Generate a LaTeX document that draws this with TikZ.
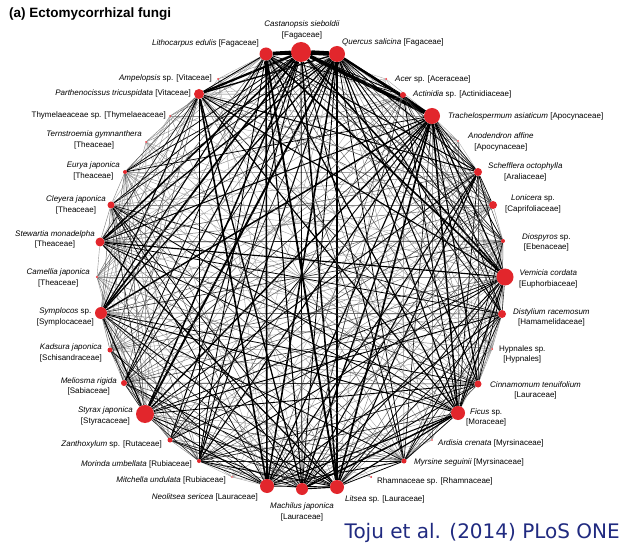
\documentclass[tikz,border=0pt]{standalone}
\usepackage{fontspec}
\setmainfont{Liberation Sans}
\newfontfamily\creditfont{DejaVu Sans}
\usepackage{xcolor}
\definecolor{nodered}{RGB}{226,38,44}
\definecolor{creditblue}{RGB}{32,42,128}
\usepackage{tikz}
\usetikzlibrary{backgrounds}

\tikzset{
  plant/.style={circle, fill=nodered, inner sep=0pt},
  lab/.style={inner sep=0pt, align=center, font=\fontsize{8}{10.5}\selectfont},
}

\begin{document}
\begin{tikzpicture}[x=1pt, y=-1pt]

      \useasboundingbox (0,0) rectangle (624,548);

      \newcommand\plants{cas/301/52/10/1.0, que/337/54/8/0.85, ace/386/79/1/0.05,
        act/403/95/3/0.3, tra/432/116/8/0.85, ano/458/141/0.9/0.07,
        sch/478/172/4/0.45, lon/493/205/4/0.45, dio/503/241/2/0.25,
        ver/505/277/8.5/0.7, dis/502/314/4/0.45, hyp/492/349/1/0.1,
        cin/478/384/3.5/0.4, fic/458/413/7/0.75, ard/432/440/0.9/0.05,
        myr/404/461/2.5/0.35, rha/371/477/1/0.05, lit/337/487/7/0.75,
        mac/302/489/6/0.7, neo/267/486/7/0.75, mit/232/477/0.9/0.06,
        mor/199/461/2/0.4, zan/170/440/2.5/0.3, sty/145/414/9/0.8,
        mel/124/383/3/0.3, kad/110/350/2.5/0.25, sym/101/313/6/0.6,
        cam/97/277/1.2/0.1, ste/100/242/4.5/0.55, cle/111/205/3.5/0.35,
        eur/125/172/2/0.2, ter/146/142/1/0.08, thy/170/116/1/0.07,
        par/199/94/5/0.7, amp/218/79/1/0.05, lth/266/54/6.5/0.85}

      \foreach \a/\xa/\ya/\ra/\wa in \plants
        \node [plant, minimum size=2*\ra] (\a) at (\xa,\ya) {};

      \begin{pgfonlayer}{background}
      \fill [white] (0,0) rectangle (624,548);
      \foreach \pass in {0,1}
        \foreach \a/\xa/\ya/\ra/\wa [count=\i] in \plants
          \foreach \b/\xb/\yb/\rb/\wb [count=\j] in \plants {
            \ifnum\j>\i
              \pgfmathsetmacro\s{\wa*\wb*(0.4+1.2*mod(\i*31+\j*17+\i*\j*3,41)/41)}
              \pgfmathtruncatemacro\keep{(\s>0.03)&&(mod(\i*13+\j*29+\i*\j*7,43)>8)&&((\s>0.12)==\pass)}
              \ifnum\keep=1
                \pgfmathsetmacro\lw{min(0.3+1.6*\s,2.1)+10*max(0,\wa*\wb-0.6)*(\ya<120)*(\yb<120)}
                \pgfmathtruncatemacro\gr{min(100,25+300*\s)}
                \draw [line width=\lw pt, black!\gr] (\a) -- (\b);
              \fi
            \fi
          }
      \end{pgfonlayer}

      \node [anchor=west, inner sep=0pt, font=\fontsize{13.5}{16}\selectfont\bfseries] (title) at (9,14) {(a) Ectomycorrhizal fungi};

      \node [lab, anchor=south] (l-cas) at (302,39) {\textit{Castanopsis sieboldii}\\{}[Fagaceae]};
      \node [lab, anchor=west] (l-que) at (342,42) {\textit{Quercus salicina} [Fagaceae]};
      \node [lab, anchor=west] (l-ace) at (395,79) {\textit{Acer} sp. [Aceraceae]};
      \node [lab, anchor=west] (l-act) at (413,94) {\textit{Actinidia} sp. [Actinidiaceae]};
      \node [lab, anchor=west] (l-tra) at (448,116) {\textit{Trachelospermum asiaticum} [Apocynaceae]};
      \node [lab, anchor=west] (l-ano) at (468,142) {\textit{Anodendron affine}\\{}[Apocynaceae]};
      \node [lab, anchor=west] (l-sch) at (488,172) {\textit{Schefflera octophylla}\\{}[Araliaceae]};
      \node [lab, anchor=west] (l-lon) at (505,204) {\textit{Lonicera} sp.\\{}[Caprifoliaceae]};
      \node [lab, anchor=west] (l-dio) at (522,242.5) {\textit{Diospyros} sp.\\{}[Ebenaceae]};
      \node [lab, anchor=west] (l-ver) at (519,279) {\textit{Vernicia cordata}\\{}[Euphorbiaceae]};
      \node [lab, anchor=west] (l-dis) at (513,317.5) {\textit{Distylium racemosum}\\{}[Hamamelidaceae]};
      \node [lab, anchor=west] (l-hyp) at (499,354.5) {Hypnales sp.\\{}[Hypnales]};
      \node [lab, anchor=west] (l-cin) at (490,390.5) {\textit{Cinnamomum tenuifolium}\\{}[Lauraceae]};
      \node [lab, anchor=west] (l-fic) at (466,417.5) {\textit{Ficus} sp.\\{}[Moraceae]};
      \node [lab, anchor=west] (l-ard) at (438,443) {\textit{Ardisia crenata} [Myrsinaceae]};
      \node [lab, anchor=west] (l-myr) at (414,462) {\textit{Myrsine seguinii} [Myrsinaceae]};
      \node [lab, anchor=west] (l-rha) at (377,481) {Rhamnaceae sp. [Rhamnaceae]};
      \node [lab, anchor=west] (l-lit) at (345,499) {\textit{Litsea} sp. [Lauraceae]};
      \node [lab, anchor=north] (l-mac) at (302,503) {\textit{Machilus japonica}\\{}[Lauraceae]};
      \node [lab, anchor=east] (l-neo) at (258,497) {\textit{Neolitsea sericea} [Lauraceae]};
      \node [lab, anchor=east] (l-mit) at (226,480) {\textit{Mitchella undulata} [Rubiaceae]};
      \node [lab, anchor=east] (l-mor) at (192,464) {\textit{Morinda umbellata} [Rubiaceae]};
      \node [lab, anchor=east] (l-zan) at (162,444) {\textit{Zanthoxylum} sp. [Rutaceae]};
      \node [lab, anchor=east] (l-sty) at (133,416) {\textit{Styrax japonica}\\{}[Styracaceae]};
      \node [lab, anchor=east] (l-mel) at (117,386.5) {\textit{Meliosma rigida}\\{}[Sabiaceae]};
      \node [lab, anchor=east] (l-kad) at (102,353) {\textit{Kadsura japonica}\\{}[Schisandraceae]};
      \node [lab, anchor=east] (l-sym) at (94,317) {\textit{Symplocos} sp.\\{}[Symplocaceae]};
      \node [lab, anchor=east] (l-cam) at (90,278) {\textit{Camellia japonica}\\{}[Theaceae]};
      \node [lab, anchor=east] (l-ste) at (95,239.5) {\textit{Stewartia monadelpha}\\{}[Theaceae]};
      \node [lab, anchor=east] (l-cle) at (106,205) {\textit{Cleyera japonica}\\{}[Theaceae]};
      \node [lab, anchor=east] (l-eur) at (120,171) {\textit{Eurya japonica}\\{}[Theaceae]};
      \node [lab, anchor=east] (l-ter) at (142,140) {\textit{Ternstroemia gymnanthera}\\{}[Theaceae]};
      \node [lab, anchor=east] (l-thy) at (166,115) {Thymelaeaceae sp. [Thymelaeaceae]};
      \node [lab, anchor=east] (l-par) at (191,93) {\textit{Parthenocissus tricuspidata} [Vitaceae]};
      \node [lab, anchor=east] (l-amp) at (212,78) {\textit{Ampelopsis} sp. [Vitaceae]};
      \node [lab, anchor=east] (l-lth) at (259,43) {\textit{Lithocarpus edulis} [Fagaceae]};

      \node [anchor=east, inner sep=0pt, text=creditblue, font=\creditfont\fontsize{20}{24}\selectfont] (credit) at (620,533) {Toju et al. (2014) PLoS ONE};

    \end{tikzpicture}
\end{document}
